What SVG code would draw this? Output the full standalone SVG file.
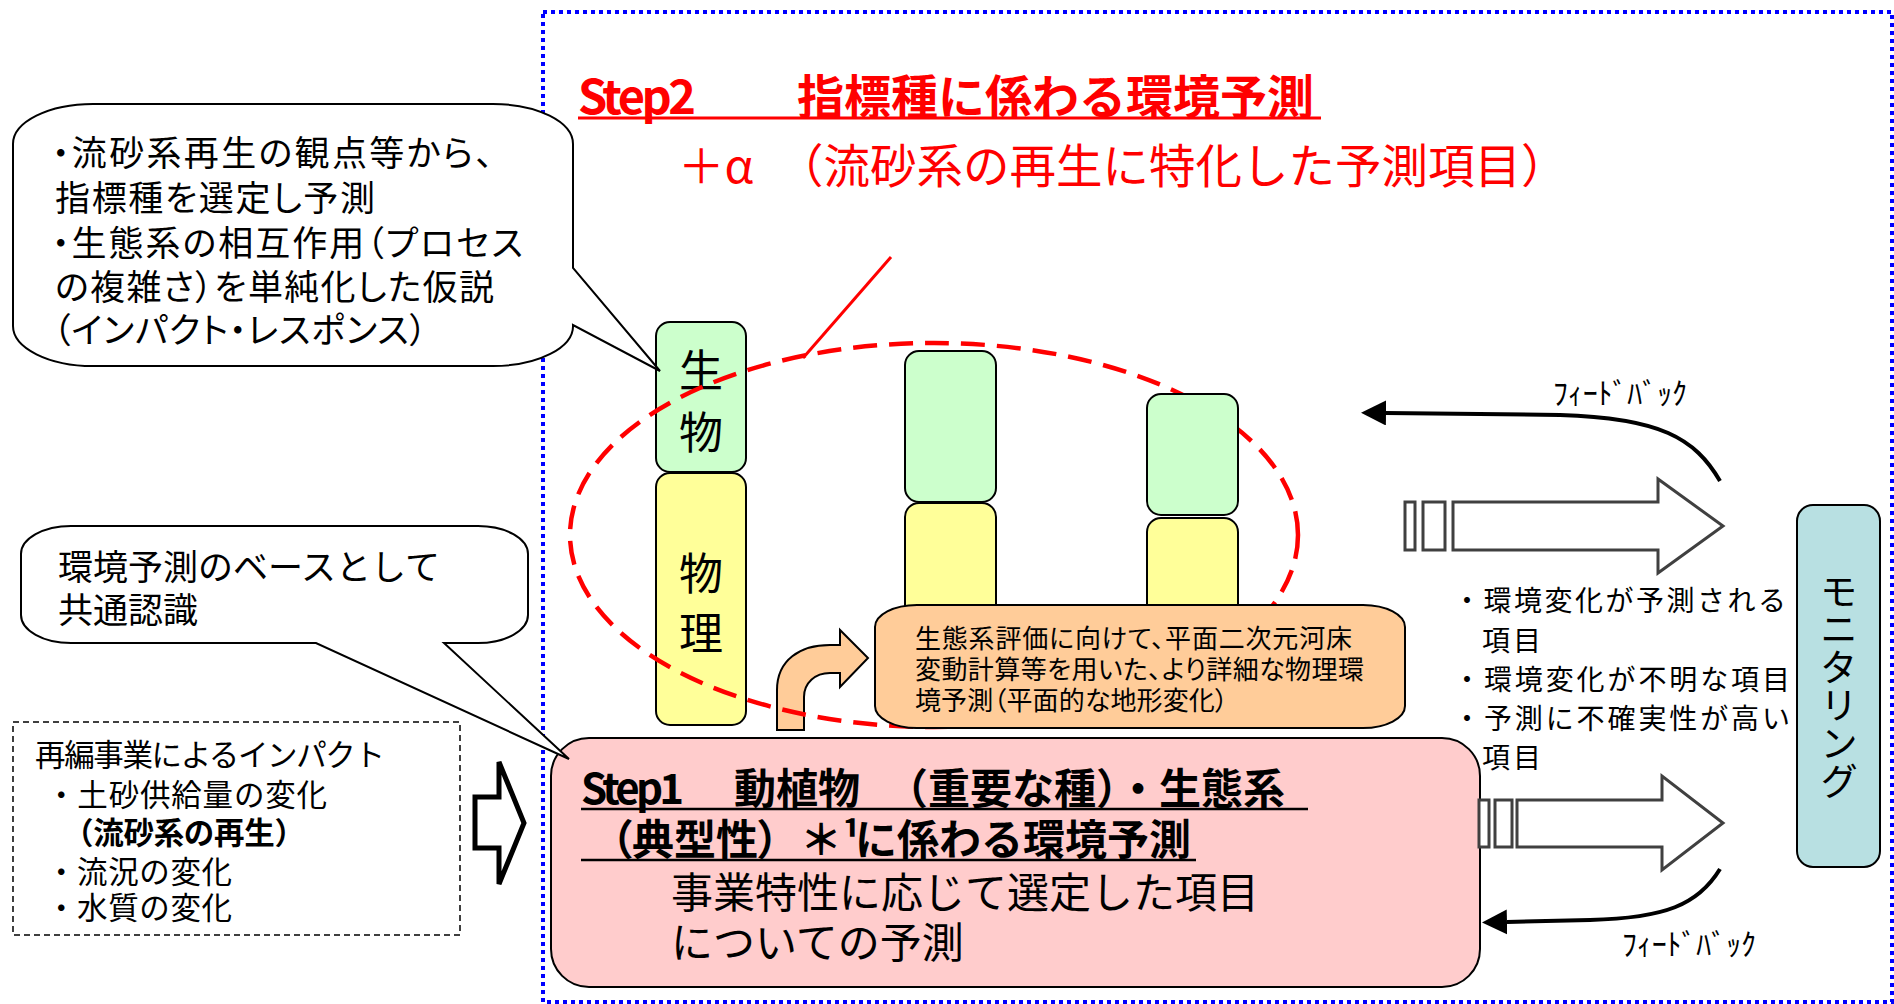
<svg xmlns="http://www.w3.org/2000/svg" width="1894" height="1004" viewBox="0 0 1894 1004">
<defs>
<style>
.t{font-family:"Noto Sans CJK JP","Noto Sans",sans-serif;fill:#000}
.p{font-feature-settings:"palt"}
.red{fill:#FF0000}
.bx{stroke:#000;stroke-width:2}
.g{fill:#CCFFCC}
.y{fill:#FFFF99}
.ba{fill:#fff;stroke:#404040;stroke-width:3}
.fb{fill:none;stroke:#000;stroke-width:4}
.v{writing-mode:vertical-rl}
</style>
<marker id="ah" markerUnits="userSpaceOnUse" markerWidth="26" markerHeight="26" viewBox="0 0 26 26" refX="0" refY="12.5" orient="auto">
<path d="M0,0 L25,12.5 L0,25 Z" fill="#000"/>
</marker>
</defs>
<rect width="1894" height="1004" fill="#fff"/>

<g id="frame">
<rect x="543" y="12" width="1349" height="990" fill="none" stroke="#0000FF" stroke-width="4" stroke-dasharray="4 4"/>
</g>

<g id="step2-title">
<text class="t red" font-size="47" font-weight="700" y="114"><tspan x="578" textLength="118">Step2</tspan><tspan x="797">指標種に係わる環境予測</tspan></text>
<line x1="578" y1="118" x2="1321" y2="118" stroke="#FF0000" stroke-width="3"/>
<text class="t red" font-size="46.5" y="183"><tspan x="678">＋α</tspan><tspan x="777">（流砂系の再生に特化した予測項目）</tspan></text>
</g>

<g id="connectors">
<line x1="891" y1="257" x2="803" y2="358" stroke="#FF0000" stroke-width="3"/>
<path class="fb" d="M1720,481 C1695,438 1660,418 1560,415 L1386,413" marker-end="url(#ah)"/>
<path class="fb" d="M1720,869 C1698,905 1665,918 1590,920 L1507,922" marker-end="url(#ah)"/>
</g>

<g id="colA">
<rect class="bx g" x="656" y="322" width="90" height="150" rx="14"/>
<rect class="bx y" x="656" y="473" width="90" height="252" rx="14"/>
<text class="t v" font-size="44" x="701" y="348" letter-spacing="18">生物</text>
<text class="t v" font-size="44" x="701" y="551" letter-spacing="16">物理</text>
</g>

<g id="bent-arrow">
<path d="M777,730 L777,690 C777,660 800,645 830,645 L840,645 L840,630 L868,658 L840,687 L840,673 L830,673 C815,673 804,683 804,697 L804,730 Z" fill="#FFCC99" stroke="#000" stroke-width="2"/>
</g>

<g id="ellipse">
<ellipse cx="934" cy="535" rx="364" ry="192" fill="none" stroke="#FF0000" stroke-width="4.5" stroke-dasharray="24 12"/>
</g>

<g id="colB">
<rect class="bx g" x="905" y="351" width="91" height="151" rx="14"/>
<rect class="bx y" x="905" y="503" width="91" height="225" rx="14"/>
</g>
<g id="colC">
<rect class="bx g" x="1147" y="394" width="91" height="121" rx="14"/>
<rect class="bx y" x="1147" y="518" width="91" height="210" rx="14"/>
</g>

<g id="detail-box">
<rect x="875" y="605" width="530" height="123" rx="42" ry="22" fill="#FFCC99" stroke="#000" stroke-width="2"/>
<text class="t p" font-size="26"><tspan x="915" y="648" textLength="437">生態系評価に向けて、平面二次元河床</tspan><tspan x="915" y="679" textLength="449">変動計算等を用いた、より詳細な物理環</tspan><tspan x="915" y="710" textLength="313">境予測（平面的な地形変化）</tspan></text>
</g>

<g id="bubble1">
<path d="M93,104 H493 A80,40 0 0 1 573,144 V268 L660,371 L573,325 A80,40 0 0 1 493,366 H93 A80,40 0 0 1 13,326 V144 A80,40 0 0 1 93,104 Z" fill="#fff" stroke="#000" stroke-width="2"/>
<text class="t p" font-size="35">
<tspan x="52" y="166" textLength="441">・流砂系再生の観点等から、</tspan>
<tspan x="55" y="211" textLength="320">指標種を選定し予測</tspan>
<tspan x="52" y="256" textLength="471">・生態系の相互作用（プロセス</tspan>
<tspan x="55" y="300" textLength="439">の複雑さ）を単純化した仮説</tspan>
<tspan x="53" y="343" textLength="374">（インパクト・レスポンス）</tspan>
</text>
</g>

<g id="impact-box">
<rect x="13" y="722" width="447" height="213" fill="none" stroke="#000" stroke-width="1.5" stroke-dasharray="6 4"/>
<text class="t" font-size="30.5">
<tspan x="35" y="766" textLength="350">再編事業によるインパクト</tspan>
<tspan x="46" y="806" textLength="281">・土砂供給量の変化</tspan>
<tspan x="63" y="844" font-weight="700" textLength="242">（流砂系の再生）</tspan>
<tspan x="46" y="883" textLength="186">・流況の変化</tspan>
<tspan x="46" y="919" textLength="186">・水質の変化</tspan>
</text>
</g>

<g id="impact-arrow">
<polygon points="475,797 499,797 499,762 524,823 499,884 499,848 475,848" fill="#fff" stroke="#000" stroke-width="5" stroke-linejoin="miter"/>
</g>

<g id="step1">
<rect x="551" y="738" width="929" height="249" rx="38" fill="#FFCCCC" stroke="#000" stroke-width="2"/>
<text class="t" font-size="42" font-weight="700" y="804"><tspan x="581" textLength="103">Step1</tspan><tspan x="734">動植物</tspan><tspan x="886">（重要な種）・生態系</tspan></text>
<line x1="581" y1="809" x2="1308" y2="809" stroke="#000" stroke-width="2.5"/>
<text class="t" font-size="42" font-weight="700" y="855"><tspan class="p" x="611">（典型性）</tspan><tspan x="800">＊¹</tspan><tspan x="855">に係わる環境予測</tspan></text>
<line x1="581" y1="860" x2="1196" y2="860" stroke="#000" stroke-width="2.5"/>
<text class="t" font-size="42"><tspan x="671" y="908">事業特性に応じて選定した項目</tspan><tspan x="671" y="958">についての予測</tspan></text>
</g>

<g id="bubble2">
<path d="M71,526 H478 A50,28 0 0 1 528,554 V615 A50,28 0 0 1 478,643 H444 L569,759 L316,643 H71 A50,28 0 0 1 21,615 V554 A50,28 0 0 1 71,526 Z" fill="#fff" stroke="#000" stroke-width="2"/>
<text class="t" font-size="35"><tspan x="58" y="580" textLength="382">環境予測のベースとして</tspan><tspan x="58" y="623">共通認識</tspan></text>
</g>

<g id="arrow-upper">
<rect class="ba" x="1405" y="502" width="10" height="48"/>
<rect class="ba" x="1423" y="502" width="22" height="48"/>
<polygon class="ba" points="1453,502 1658,502 1658,479 1723,526 1658,573 1658,550 1453,550"/>
</g>
<g id="arrow-lower">
<rect class="ba" x="1479" y="800" width="10" height="47"/>
<rect class="ba" x="1495" y="800" width="17" height="47"/>
<polygon class="ba" points="1517,800 1662,800 1662,776 1723,823 1662,870 1662,847 1517,847"/>
</g>

<g id="monitor-items">
<text class="t" font-size="28">
<tspan x="1453" y="611" textLength="333">・環境変化が予測される</tspan>
<tspan x="1482" y="651" letter-spacing="3">項目</tspan>
<tspan x="1453" y="690" textLength="337">・環境変化が不明な項目</tspan>
<tspan x="1453" y="729" textLength="337">・予測に不確実性が高い</tspan>
<tspan x="1482" y="768" letter-spacing="3">項目</tspan>
</text>
</g>

<g id="feedback-labels">
<text class="t" font-size="30" x="1553" y="404" textLength="134">ﾌｨｰﾄﾞﾊﾞｯｸ</text>
<text class="t" font-size="30" x="1622" y="955" textLength="134">ﾌｨｰﾄﾞﾊﾞｯｸ</text>
</g>

<g id="monitoring">
<rect x="1797" y="505" width="83" height="362" rx="16" fill="#B8E0E2" stroke="#000" stroke-width="2"/>
<text class="t v" font-size="38" x="1839" y="572">モニタリング</text>
</g>
</svg>
